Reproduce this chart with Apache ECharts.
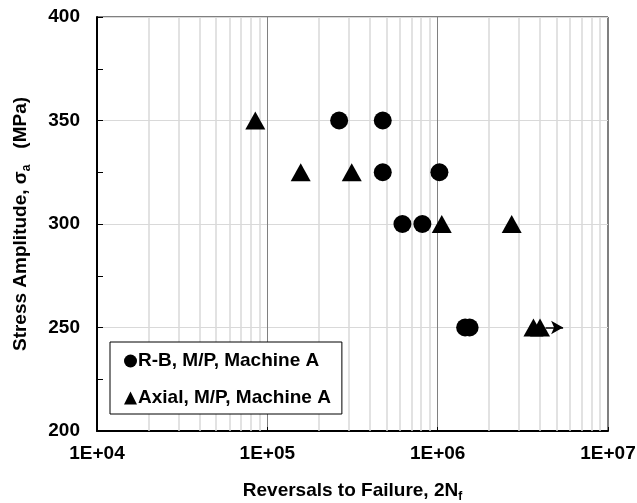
<!DOCTYPE html>
<html><head><meta charset="utf-8">
<script src="https://cdn.jsdelivr.net/npm/echarts@6/dist/echarts.min.js"></script>
<style>html,body{margin:0;padding:0;background:#fff}#c{width:637px;height:503px}</style>
</head><body><div id="c"></div>
<script>
// Data
const rbCycles = [264000, 476000, 476000, 1024000, 621000, 813000, 1450000, 1540000];
const rbStress = [350, 350, 325, 325, 300, 300, 250, 250];
const axCycles = [85000, 157000, 313000, 1057000, 2720000, 3650000, 3990000];
const axStress = [350, 325, 325, 300, 300, 250, 250];
const runoutFrom = [4300000, 250];
const runoutTo = [5450000, 250];
const xTickLabels = {4: '1E+04', 5: '1E+05', 6: '1E+06', 7: '1E+07'};
const yTicks = [200, 250, 300, 350, 400];
const seriesNames = ['R-B, M/P, Machine A', 'Axial, M/P, Machine A'];

const minorX = [];
for (let d = 4; d < 7; d++) for (let k = 2; k <= 9; k++) minorX.push({xAxis: k * Math.pow(10, d)});

const F = 'Liberation Sans, Arial, sans-serif';
const chart = echarts.init(document.getElementById('c'));
chart.setOption({
  animation: false,
  grid: {left: 97, right: 29, top: 17, bottom: 72, show: true, borderColor: '#000', borderWidth: 1,
         containLabel: false, outerBoundsMode: 'none'},
  xAxis: {
    type: 'log', logBase: 10, min: 1e4, max: 1e7,
    axisLine: {show: true, onZero: false, lineStyle: {color: '#000', width: 2}},
    axisTick: {show: true, inside: true, length: 4, lineStyle: {color: '#000'}},
    splitLine: {show: true, lineStyle: {color: '#808080', width: 1}},
    axisLabel: {margin: 13, color: '#000', fontFamily: F, fontWeight: 'bold', fontSize: 19,
      formatter: v => xTickLabels[Math.round(Math.log10(v))] || ''},
    name: '{b|Reversals to Failure, 2N}{s|f}',
    nameLocation: 'middle', nameGap: 47,
    nameTextStyle: {rich: {
      b: {fontFamily: F, fontWeight: 'bold', fontSize: 19, color: '#000', lineHeight: 22, verticalAlign: 'bottom'},
      s: {fontFamily: F, fontWeight: 'bold', fontSize: 12, color: '#000', lineHeight: 22, verticalAlign: 'bottom', padding: [0, 0, -3, 0]}
    }}
  },
  yAxis: {
    type: 'value', min: 200, max: 400, interval: 50,
    axisLine: {show: true, onZero: false, lineStyle: {color: '#000', width: 2}},
    axisTick: {show: true, inside: true, length: 6, lineStyle: {color: '#000'}},
    minorTick: {show: true, splitNumber: 2, length: 6, lineStyle: {color: '#000'}},
    splitLine: {show: true, lineStyle: {color: '#d9d9d9', width: 1}},
    axisLabel: {margin: 17, color: '#000', fontFamily: F, fontWeight: 'bold', fontSize: 19},
    name: '{b|Stress Amplitude, σ}{s|a}{b|   (MPa)}',
    nameLocation: 'middle', nameGap: 67, nameRotate: 90,
    nameTextStyle: {rich: {
      b: {fontFamily: F, fontWeight: 'bold', fontSize: 19, color: '#000', lineHeight: 22, verticalAlign: 'bottom'},
      s: {fontFamily: F, fontWeight: 'bold', fontSize: 12, color: '#000', lineHeight: 22, verticalAlign: 'bottom', padding: [0, 0, -3, 0]}
    }}
  },
  legend: {
    orient: 'vertical', left: 110, top: 342, itemGap: 17,
    backgroundColor: '#fff', borderColor: '#000', borderWidth: 1, padding: [9, 11, 6, 14],
    itemWidth: 13, itemHeight: 13,
    itemStyle: {opacity: 1},
    textStyle: {fontFamily: F, fontWeight: 'bold', fontSize: 19, color: '#000', lineHeight: 20, padding: [0, 0, 0, -4]},
    data: [{name: seriesNames[0], icon: 'circle'}, {name: seriesNames[1], icon: 'triangle'}]
  },
  series: [
    {type: 'scatter', name: 'minor', silent: true, data: [], z: 1,
     markLine: {silent: true, symbol: ['none', 'none'], label: {show: false},
       lineStyle: {color: '#d9d9d9', width: 1.5, type: 'solid'}, data: minorX, z: 1}},
    {type: 'scatter', name: seriesNames[0], symbol: 'circle', symbolSize: 18,
     itemStyle: {color: '#000', opacity: 1}, data: rbCycles.map((x, i) => [x, rbStress[i]]), z: 5},
    {type: 'scatter', name: seriesNames[1], symbol: 'triangle', symbolSize: [20, 18],
     itemStyle: {color: '#000', opacity: 1}, data: axCycles.map((x, i) => [x, axStress[i]]), z: 5,
     markLine: {silent: true, symbol: ['none', 'arrow'], symbolSize: [10, 12], label: {show: false},
       lineStyle: {color: '#000', width: 1.5, type: 'solid', opacity: 1},
       data: [[{coord: runoutFrom}, {coord: runoutTo}]]}}
  ]
});
</script></body></html>
